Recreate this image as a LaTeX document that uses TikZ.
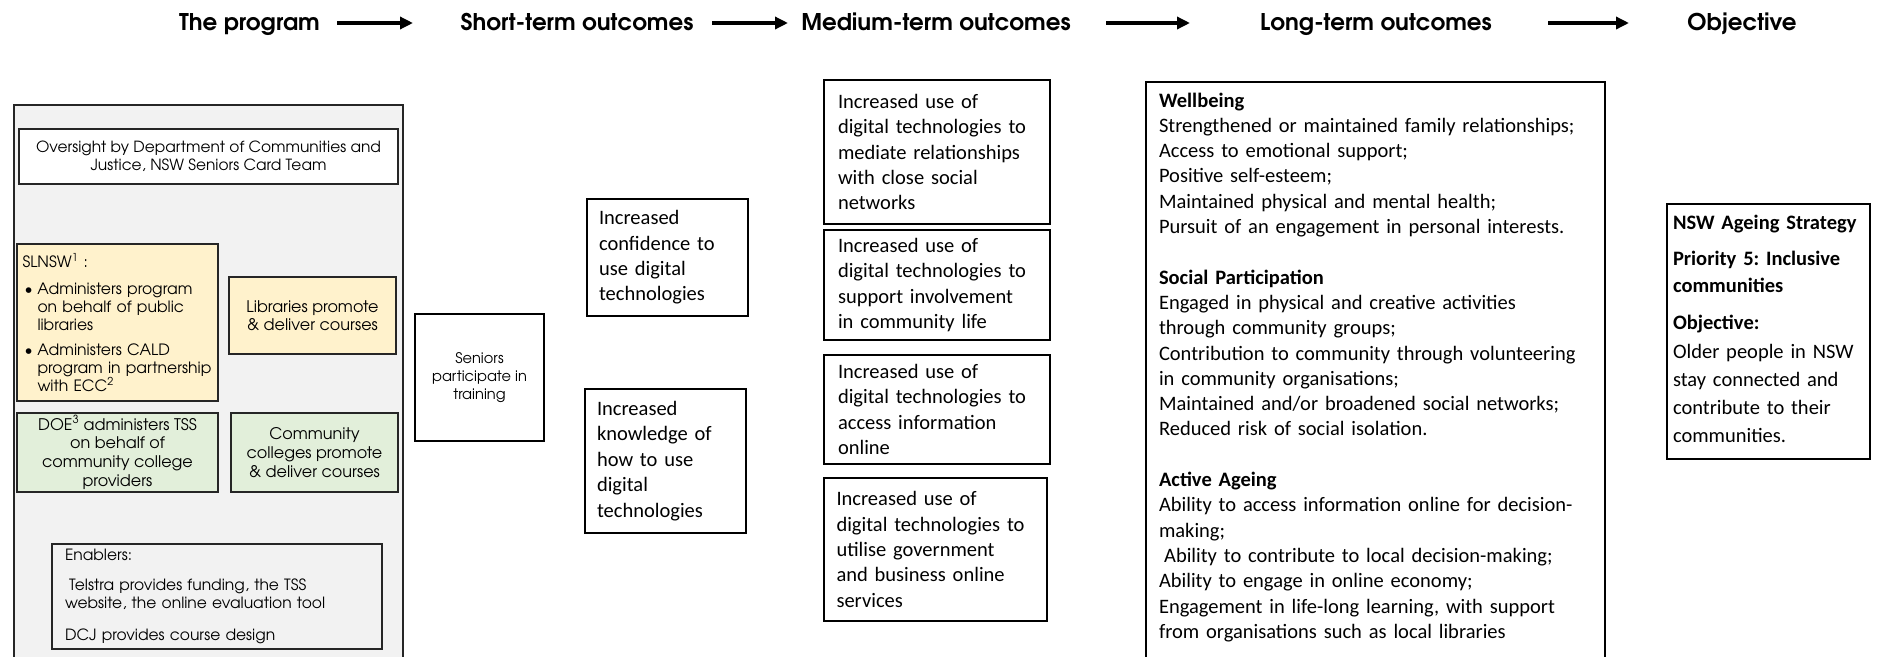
\documentclass[tikz,border=0pt]{standalone}
\usepackage{fontspec}
\setmainfont{Carlito}
\newfontfamily\gothic{texgyreadventor}[Extension=.otf,UprightFont=*-regular,BoldFont=*-bold]
\usetikzlibrary{arrows.meta}
\definecolor{panelgray}{HTML}{F2F2F2}
\definecolor{libyellow}{HTML}{FFF2CC}
\definecolor{colgreen}{HTML}{E2EFDA}
\newcommand\gothfs[2]{\gothic\fontsize{#1}{#2}\selectfont}
\newcommand\calfs[2]{\fontsize{#1}{#2}\selectfont}
\frenchspacing
\begin{document}
\begin{tikzpicture}[x=1pt,y=-1pt,
  box/.style={draw=black, line width=1.4pt, inner sep=0pt, outer sep=0pt, fill=white},
  darkbox/.style={box, draw=black!85, line width=2pt},
  head/.style={anchor=base, inner sep=0pt, font=\gothfs{23}{28}\bfseries},
  flow/.style={line width=4pt, -{Triangle[length=13pt,width=12pt]}},
  plain/.style={inner sep=0pt, outer sep=0pt},
  calbox/.style={box, align=left, font=\calfs{20.5}{25.4}}]
\useasboundingbox (0,0) rectangle (1879,656);
% headers
\node[head] (h1) at (249.5,30) {The program};
\node[head] (h2) at (577,30) {Short-term outcomes};
\node[head] (h3) at (936,30) {Medium-term outcomes};
\node[head] (h4) at (1376,30) {Long-term outcomes};
\node[head] (h5) at (1742,30) {Objective};
\coordinate (a1s) at (337,23); \coordinate (a1e) at (413,23);
\coordinate (a2s) at (712,23); \coordinate (a2e) at (788,23);
\coordinate (a3s) at (1106,23); \coordinate (a3e) at (1190,23);
\coordinate (a4s) at (1548,23); \coordinate (a4e) at (1629,23);
\draw[flow] (a1s) -- (a1e);
\draw[flow] (a2s) -- (a2e);
\draw[flow] (a3s) -- (a3e);
\draw[flow] (a4s) -- (a4e);
% program panel
\node[darkbox, fill=panelgray, minimum width=389pt, minimum height=575pt] (panel) at (208.5,392.5) {};
\node[darkbox, minimum width=379pt, minimum height=55pt, align=center, font=\gothfs{15.4}{18}] (oversight) at (208.5,156.5)
  {Oversight by Department of Communities and\\Justice, NSW Seniors Card Team};
\node[darkbox, fill=libyellow, minimum width=201pt, minimum height=157pt, text width=190pt, align=left, font=\gothfs{15.6}{18}] (slnsw) at (117.5,322.5)
  {\mbox{SLNSW\textsuperscript{1} :}\\[9pt]
   \mbox{\makebox[15pt][l]{\hspace*{2pt}\textbullet}Administers program}\\
   \mbox{\hspace*{15pt}on behalf of public}\\
   \mbox{\hspace*{15pt}libraries}\\[7pt]
   \mbox{\makebox[15pt][l]{\hspace*{2pt}\textbullet}Administers CALD}\\
   \mbox{\hspace*{15pt}program in partnership}\\
   \mbox{\hspace*{15pt}with ECC\textsuperscript{2}}};
\node[darkbox, fill=libyellow, minimum width=167pt, minimum height=77pt, align=center, font=\gothfs{16}{18.5}] (libs) at (312.5,315.5)
  {Libraries promote\\\& deliver courses};
\node[darkbox, fill=colgreen, minimum width=201pt, minimum height=79pt, align=center, font=\gothfs{16}{18.7}] (doe) at (117.5,452.5)
  {DOE\textsuperscript{3} administers TSS\\on behalf of\\community college\\providers};
\node[darkbox, fill=colgreen, minimum width=167pt, minimum height=79pt, align=center, font=\gothfs{16}{19}] (colleges) at (314.5,452.5)
  {Community\\colleges promote\\\& deliver courses};
\node[darkbox, fill=panelgray, minimum width=330pt, minimum height=105pt, text width=304pt, align=left, font=\gothfs{15.5}{18.5}] (enablers) at (217,596.5)
  {Enablers:\\[11pt]
   \hspace*{4pt}Telstra provides funding, the TSS\\
   website, the online evaluation tool\\[13pt]
   DCJ provides course design};
% seniors
\node[box, line width=1.8pt, minimum width=129pt, minimum height=127pt, align=center, font=\gothfs{14.6}{17.8}] (seniors) at (479.5,377.5)
  {Seniors\\participate in\\training};
% short-term
\node[calbox, minimum width=161pt, minimum height=117pt, text width=137pt] (conf) at (667.5,257.5)
  {Increased\\confidence to\\use digital\\technologies};
\node[calbox, minimum width=161pt, minimum height=144pt, text width=137pt] (know) at (665.5,461)
  {Increased\\knowledge of\\how to use\\digital\\technologies};
% medium-term
\node[calbox, minimum width=226pt, minimum height=144pt, text width=198pt] (med1) at (937,152)
  {Increased use of\\digital technologies to\\mediate relationships\\with close social\\networks};
\node[calbox, minimum width=226pt, minimum height=110pt, text width=198pt] (med2) at (937,285)
  {Increased use of\\digital technologies to\\support involvement\\in community life};
\node[calbox, minimum width=226pt, minimum height=109pt, text width=198pt] (med3) at (937,409.5)
  {Increased use of\\digital technologies to\\access information\\online};
\node[calbox, minimum width=223pt, minimum height=143pt, text width=198pt] (med4) at (935.5,549.5)
  {Increased use of\\digital technologies to\\utilise government\\and business online\\services};
% long-term
\node[box, minimum width=459pt, minimum height=620pt] (long) at (1375.5,392) {};
\node[plain, anchor=base west, text width=440pt, align=left, font=\calfs{20.5}{25.3}] (longtext) at (1159,107)
  {\textbf{Wellbeing}\\
   Strengthened or maintained family relationships;\\
   Access to emotional support;\\
   Positive self-esteem;\\
   Maintained physical and mental health;\\
   Pursuit of an engagement in personal interests.\\[25.3pt]
   \textbf{Social Participation}\\
   Engaged in physical and creative activities\\
   through community groups;\\
   Contribution to community through volunteering\\
   in community organisations;\\
   Maintained and/or broadened social networks;\\
   Reduced risk of social isolation.\\[25.3pt]
   \textbf{Active Ageing}\\
   Ability to access information online for decision-\\
   making;\\
   \hspace*{0.25em}Ability to contribute to local decision-making;\\
   Ability to engage in online economy;\\
   Engagement in life-long learning, with support\\
   from organisations such as local libraries};
% objective
\node[box, minimum width=203pt, minimum height=255pt] (objective) at (1768.5,331.5) {};
\node[plain, anchor=base west, text width=195pt, align=left, font=\calfs{20.5}{28}] (objtext) at (1673,229)
  {\textbf{NSW Ageing Strategy}\\[8pt]
   \textbf{Priority 5: Inclusive}\\[-1pt]
   \textbf{communities}\\[9pt]
   \textbf{Objective:}\\[1pt]
   Older people in NSW\\
   stay connected and\\
   contribute to their\\
   communities.};
\end{tikzpicture}
\end{document}
